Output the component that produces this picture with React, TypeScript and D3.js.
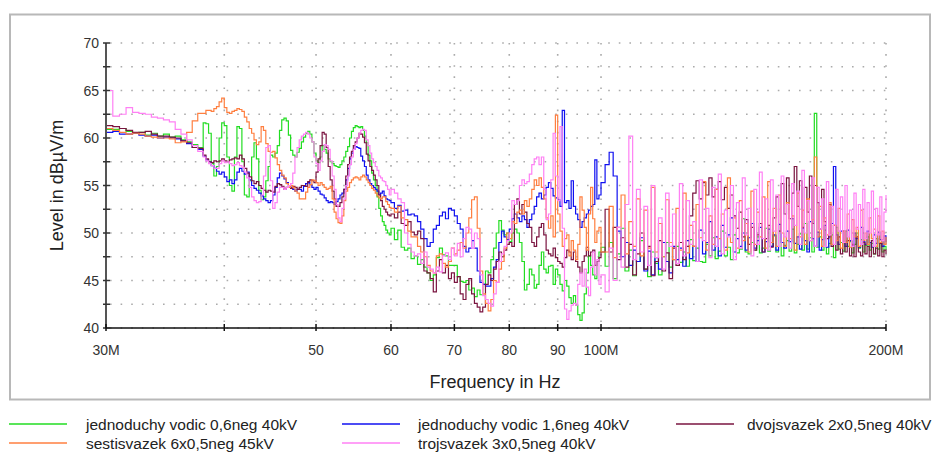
import React from 'react';
import * as d3 from 'd3';

// Frequency grid in MHz (shared by all series)
const freqMHz: number[] = [
  30, 30.5, 31, 31.5, 32, 32.5, 33, 33.5, 34, 34.5, 35, 35.5, 36, 36.5, 37, 37.5, 38,
  38.25, 38.5, 38.75, 39, 39.25, 39.5, 39.75, 40, 40.25, 40.5,
  40.75, 41, 41.25, 41.5, 41.75, 42, 42.25, 42.5, 42.75, 43,
  43.25, 43.5, 43.75, 44, 44.25, 44.5, 44.75, 45, 45.25, 45.5,
  45.75, 46, 46.25, 46.5, 46.75, 47, 47.25, 47.5, 47.75, 48,
  48.25, 48.5, 48.75, 49, 49.25, 49.5, 49.75, 50, 50.25, 50.5,
  50.75, 51, 51.25, 51.5, 51.75, 52, 52.25, 52.5, 52.75, 53,
  53.25, 53.5, 53.75, 54, 54.25, 54.5, 54.75, 55, 55.25, 55.5,
  55.75, 56, 56.25, 56.5, 56.75, 57, 57.25, 57.5, 57.75, 58,
  58.25, 58.5, 58.75, 59, 59.25, 59.5, 59.75, 60,
  60.5, 61, 61.5, 62, 62.5, 63, 63.5, 64, 64.5, 65,
  65.5, 66, 66.5, 67, 67.5, 68, 68.5, 69, 69.5, 70,
  70.5, 71, 71.5, 72, 72.5, 73, 73.5, 74, 74.5, 75,
  75.5, 76, 76.5, 77, 77.5, 78, 78.5, 79, 79.5, 80,
  80.5, 81, 81.5, 82, 82.5, 83, 83.5, 84, 84.5, 85,
  85.5, 86, 86.5, 87, 87.5, 88, 88.5, 89, 89.5, 90,
  90.5, 91, 91.5, 92, 92.5, 93, 93.5, 94, 94.5, 95,
  95.5, 96, 96.5, 97, 97.5, 98, 98.5, 99, 99.5, 100,
  101, 102, 103, 104, 105, 106, 107, 108, 109, 110,
  111, 112, 113, 114, 115, 116, 117, 118, 119, 120,
  121, 122, 123, 124, 125, 126, 127, 128, 129, 130,
  131, 132, 133, 134, 135, 136, 137, 138, 139, 140,
  141, 142, 143, 144, 145, 146, 147, 148, 149, 150,
  151, 152, 153, 154, 155, 156, 157, 158, 159, 160,
  161, 162, 163, 164, 165, 166, 167, 168, 169, 170,
  171, 172, 173, 174, 175, 176, 177, 178, 179, 180,
  181, 182, 183, 184, 185, 186, 187, 188, 189, 190,
  191, 192, 193, 194, 195, 196, 197, 198, 199, 200,
];

// jednoduchy vodic 0,6neg 40kV (green)
const greenLevels: number[] = [
  60.9, 60.9, 61.0, 60.7, 60.5, 60.6, 60.3, 60.5, 60.2, 60.4, 60.1, 60.2, 59.8, 59.6, 59.3, 59.0, 61.6,
  61.5, 60.5, 57.3, 56.0, 57.0, 60.0, 61.6, 61.3, 58.0, 55.0,
  54.4, 58.0, 61.2, 61.0, 57.5, 54.0, 53.8, 55.5, 58.0, 59.5,
  57.8, 54.5, 53.5, 53.8, 55.5, 57.0, 58.2, 58.0, 58.4, 59.2,
  60.8, 61.9, 62.1, 61.8, 60.3, 58.7, 58.2, 58.0, 58.5, 58.9,
  59.6, 60.1, 60.5, 60.7, 60.4, 59.6, 58.4, 57.6, 57.4, 58.0,
  59.2, 58.8, 58.4, 57.8, 57.5, 57.3, 57.1, 57.0, 56.9, 57.2,
  57.6, 58.0, 58.6, 59.1, 60.0, 60.7, 61.1, 61.3, 61.2, 61.1,
  61.2, 60.8, 60.2, 59.5, 58.2, 57.6, 56.3, 55.6, 55.0, 53.8,
  52.6, 51.8, 51.2, 50.8, 50.3, 50.0, 49.8, 50.5,
  49.3, 50.3, 48.5, 48.2, 48.4, 47.3, 47.6, 46.7, 47.2, 46.4,
  45.8, 45.0, 45.6, 47.4, 48.4, 47.7, 47.6, 46.6, 46.6, 46.6,
  45.4, 44.9, 44.8, 45.0, 44.0, 44.2, 43.3, 44.0, 43.5, 44.6,
  46.0, 45.8, 47.2, 48.4, 50.0, 51.3, 50.3, 49.8, 50.0, 49.1,
  50.0, 50.4, 50.0, 49.0, 47.0, 44.0, 44.6, 46.2, 45.6, 44.2,
  44.6, 46.6, 48.0, 46.2, 45.8, 46.5, 46.6, 44.6, 46.2, 45.6,
  44.6, 43.9, 45.0, 44.4, 43.2, 42.6, 43.4, 42.4, 41.4, 40.8,
  41.6, 43.6, 45.8, 47.6, 46.6, 45.6, 45.2, 47.0, 48.0, 48.5,
  46.5, 49.0, 45.2, 47.8, 50.5, 46.0, 48.2, 45.5, 47.0, 49.2,
  46.2, 45.4, 48.0, 46.8, 45.6, 47.5, 49.0, 46.4, 47.2, 48.6,
  46.9, 48.0, 46.5, 49.3, 47.1, 48.4, 47.0, 46.9, 48.8, 47.6,
  49.5, 47.3, 48.1, 50.2, 47.6, 48.5, 47.2, 49.8, 47.9, 48.3,
  51.5, 48.0, 47.8, 49.0, 48.2, 49.6, 47.9, 48.4, 50.5, 48.1,
  48.6, 49.7, 48.0, 50.2, 47.6, 48.7, 49.2, 48.1, 50.4, 47.9,
  48.8, 49.9, 48.2, 51.0, 48.3, 49.5, 48.0, 62.6, 48.5, 49.6,
  48.2, 50.3, 47.8, 48.9, 49.8, 47.4, 50.6, 48.3, 49.0, 48.1,
  50.2, 48.6, 49.1, 47.9, 48.8, 50.0, 48.4, 49.3, 48.0, 48.7,
  49.6, 48.2, 48.9, 47.8, 49.4, 48.3, 48.9, 48.0, 48.6, 48.2,
];

// jednoduchy vodic 1,6neg 40kV (blue)
const blueLevels: number[] = [
  60.6, 60.7, 60.4, 60.4, 60.5, 60.3, 60.2, 60.3, 60.0, 60.1, 60.0, 59.9, 59.7, 59.4, 59.0, 58.8, 58.1,
  57.7, 57.5, 57.1, 56.8, 56.5, 56.2, 56.4, 55.9, 55.4, 55.6,
  55.2, 55.6, 56.4, 56.8, 56.5, 56.2, 56.4, 55.6, 55.0, 54.7,
  54.5, 54.2, 53.9, 53.6, 53.4, 53.2, 53.4, 54.0, 54.8, 55.8,
  56.3, 56.0, 55.7, 55.3, 55.0, 54.8, 54.6, 54.4, 54.6, 54.6,
  54.4, 54.9, 55.2, 55.3, 55.1, 54.8, 54.6, 54.8, 54.4, 54.1,
  54.0, 53.7, 53.4, 53.2, 53.3, 53.2, 53.0, 53.3, 53.6, 54.0,
  54.2, 54.6, 55.6, 56.8, 57.8, 58.4, 58.8, 59.1, 59.0, 58.9,
  58.1, 57.6, 57.0, 56.1, 55.6, 55.2, 55.0, 54.8, 54.6, 54.4,
  54.0, 54.2, 54.4, 53.9, 53.6, 53.5, 53.4, 53.2,
  52.6, 52.9, 52.3, 52.4, 51.9, 52.0, 51.8, 51.2, 50.4, 49.4,
  48.6, 49.0, 50.4, 50.8, 51.8, 52.2, 51.5, 52.6, 52.4, 51.8,
  51.0, 50.4, 48.6, 48.0, 48.4, 49.2, 48.4, 46.0, 44.8, 44.6,
  44.4, 44.4, 45.2, 46.4, 47.2, 49.0, 50.2, 49.6, 49.3, 50.4,
  51.5, 52.0, 51.6, 51.2, 51.8, 51.4, 50.6, 51.4, 52.0, 52.8,
  53.8, 54.2, 53.6, 54.0, 54.8, 55.3, 54.7, 53.9, 53.7, 53.5,
  52.8, 62.9, 53.2, 53.4, 52.6, 55.5, 52.8, 52.0, 51.4, 50.6,
  51.2, 51.6, 52.0, 52.4, 52.8, 53.0, 57.7, 53.6, 54.0, 55.3,
  57.2, 58.5, 56.0, 50.2, 47.5, 49.0, 46.6, 48.2, 47.0, 49.5,
  46.0, 48.1, 45.6, 47.4, 46.2, 49.0, 47.0, 45.8, 48.6, 47.2,
  48.4, 46.5, 49.2, 47.3, 48.6, 47.0, 50.3, 47.8, 49.0, 51.2,
  48.2, 49.6, 47.6, 50.8, 48.5, 49.8, 51.6, 48.0, 49.4, 48.6,
  50.0, 48.2, 49.5, 51.0, 48.4, 49.2, 50.6, 48.0, 49.1, 50.4,
  48.6, 49.8, 48.2, 50.9, 49.0, 48.4, 50.2, 49.1, 51.5, 48.9,
  49.6, 48.3, 50.5, 49.2, 48.0, 51.2, 49.4, 48.6, 50.1, 48.2,
  49.3, 50.8, 48.5, 49.6, 51.0, 57.0, 49.8, 48.8, 50.2, 49.0,
  48.6, 50.3, 49.2, 48.7, 50.0, 49.4, 48.5, 50.6, 49.1, 48.8,
  50.2, 49.0, 48.5, 49.8, 48.9, 50.1, 49.3, 48.6, 49.7, 49.0,
];

// dvojsvazek 2x0,5neg 40kV (maroon)
const maroonLevels: number[] = [
  61.3, 61.2, 61.0, 60.8, 60.6, 60.6, 60.7, 60.4, 60.2, 60.2, 60.1, 60.0, 59.7, 59.5, 59.0, 58.9, 58.2,
  57.8, 57.5, 57.4, 57.6, 57.5, 57.6, 57.8, 57.6, 57.5, 57.7,
  57.8, 57.9, 57.8, 58.2, 57.8, 56.8, 56.3, 55.9, 55.5, 55.2,
  55.4, 55.0, 54.7, 54.5, 54.3, 54.5, 54.4, 54.3, 54.9, 55.2,
  55.1, 54.9, 54.6, 54.8, 54.8, 54.7, 54.9, 54.8, 54.6, 54.8,
  55.0, 55.0, 54.9, 55.4, 55.6, 55.5, 55.3, 56.4, 57.8, 59.2,
  60.6, 60.4, 59.0, 57.0, 55.6, 54.4, 53.6, 52.8, 52.8, 53.2,
  53.8, 54.6, 56.0, 57.2, 58.0, 58.6, 59.2, 59.6, 60.0, 60.5,
  60.4, 60.1, 59.5, 58.3, 57.6, 57.0, 56.6, 56.1, 55.6, 55.0,
  54.0, 53.4, 52.8, 52.5, 52.2, 51.9, 51.8, 52.0,
  51.6, 52.2, 51.0, 50.8, 51.2, 50.1, 49.8, 50.2, 49.4, 46.0,
  45.8, 45.2, 43.8, 46.0, 47.2, 45.8, 46.6, 45.2, 45.8, 44.8,
  45.4, 43.6, 43.0, 44.6, 45.2, 43.6, 42.6, 42.2, 41.7, 42.2,
  44.6, 45.6, 45.0, 46.2, 47.0, 48.0, 47.5, 48.2, 48.8, 49.0,
  48.6, 53.0, 53.6, 52.0, 53.0, 52.2, 51.0, 50.6, 49.0, 48.6,
  49.6, 50.6, 51.0, 49.8, 48.2, 47.8, 47.6, 48.4, 47.4, 47.0,
  46.8, 46.4, 47.4, 48.2, 48.0, 47.2, 48.0, 47.0, 46.4, 45.8,
  47.0, 47.6, 48.5, 47.6, 48.0, 48.2, 46.6, 47.0, 47.4, 48.0,
  52.5, 48.0, 50.6, 47.2, 49.5, 46.4, 48.8, 45.6, 47.8, 50.0,
  46.2, 48.6, 45.5, 47.0, 49.2, 46.0, 47.9, 45.2, 48.4, 46.6,
  49.0, 47.2, 48.6, 51.8, 54.2, 55.5, 53.6, 55.3, 54.0, 55.8,
  53.8, 54.6, 55.4, 53.5, 54.8, 52.6, 54.0, 51.8, 50.5, 52.2,
  49.6, 51.4, 48.8, 50.6, 48.2, 49.8, 51.0, 48.0, 49.4, 50.8,
  48.5, 51.6, 53.8, 50.2, 55.2, 52.0, 55.8, 51.5, 54.2, 57.0,
  52.8, 55.5, 50.6, 54.8, 52.2, 56.0, 51.0, 55.0, 53.2, 50.4,
  54.6, 51.2, 49.4, 53.0, 48.6, 50.8, 48.2, 49.6, 47.8, 50.2,
  48.0, 49.2, 47.6, 48.8, 47.5, 49.6, 48.0, 47.6, 49.0, 47.8,
  48.6, 47.5, 49.2, 47.8, 48.4, 47.6, 48.9, 47.5, 48.2, 47.8,
];

// sestisvazek 6x0,5neg 45kV (orange)
const orangeLevels: number[] = [
  61.0, 60.8, 60.6, 60.4, 60.5, 60.4, 60.2, 60.1, 60.0, 60.0, 59.9, 59.5, 59.6, 60.6, 61.8, 62.6, 62.6,
  62.9, 62.9, 62.8, 63.1, 63.3, 63.8, 64.2, 63.2, 62.7, 62.6,
  62.8, 62.9, 63.1, 63.0, 62.8, 62.2, 61.7, 61.0, 60.5, 59.8,
  59.3, 59.6, 61.2, 60.8, 59.4, 58.6, 58.5, 58.6, 57.9, 57.2,
  56.6, 56.1, 55.8, 55.2, 54.8, 55.0, 54.8, 54.4, 54.2, 53.6,
  53.6, 53.6, 54.3, 54.8, 55.1, 55.6, 55.5, 55.3, 55.0, 55.3,
  55.1, 54.8, 54.6, 54.7, 54.9, 53.6, 52.2, 51.5, 51.1, 51.0,
  51.8, 53.4, 54.4, 54.8, 55.3, 55.6, 55.8, 55.9, 55.8, 55.6,
  55.9, 56.1, 55.9, 55.6, 55.3, 55.0, 54.7, 54.5, 54.2, 53.9,
  53.7, 53.6, 53.8, 53.8, 53.3, 53.0, 52.7, 52.6,
  52.2, 52.8, 51.6, 51.4, 50.2, 49.6, 49.6, 48.6, 48.0, 47.5,
  46.6, 46.0, 45.8, 47.6, 47.8, 46.8, 46.4, 47.0, 48.4, 47.8,
  48.2, 49.0, 48.4, 50.0, 51.6, 53.5, 53.8, 50.5, 46.0, 43.6,
  42.6, 41.8, 43.0, 45.0, 44.8, 46.2, 47.0, 48.4, 50.0, 49.4,
  51.2, 51.0, 52.2, 52.4, 52.0, 53.4, 52.8, 53.6, 54.6, 55.6,
  55.0, 55.8, 54.8, 53.6, 51.6, 50.5, 51.8, 49.6, 62.4, 52.0,
  50.2, 48.6, 49.4, 49.8, 47.6, 49.2, 48.2, 47.2, 48.8, 53.8,
  52.4, 50.6, 48.2, 52.0, 54.8, 51.5, 49.0, 50.2, 50.6, 48.0,
  48.0, 52.8, 47.4, 50.6, 54.0, 47.8, 51.2, 48.6, 53.6, 47.6,
  52.4, 48.4, 54.8, 48.0, 51.0, 47.5, 53.5, 49.0, 47.2, 52.6,
  48.2, 54.2, 47.9, 50.8, 48.6, 53.0, 49.5, 55.4, 48.2, 51.8,
  48.8, 54.6, 49.4, 52.0, 48.2, 55.8, 49.0, 51.6, 48.4, 53.4,
  49.2, 51.0, 48.0, 54.4, 48.8, 52.2, 49.6, 53.8, 48.4, 55.4,
  49.0, 52.6, 48.6, 54.0, 50.0, 48.6, 53.2, 49.4, 51.8, 48.2,
  54.2, 49.6, 52.4, 48.8, 53.6, 49.2, 51.4, 58.0, 49.6, 52.8,
  48.6, 51.6, 49.8, 53.2, 48.8, 50.8, 49.2, 52.6, 48.4, 50.2,
  49.0, 52.0, 48.5, 51.4, 49.6, 50.6, 48.6, 52.4, 49.2, 50.0,
  48.8, 51.6, 49.4, 50.4, 48.6, 51.8, 49.0, 50.2, 48.8, 49.6,
];

// trojsvazek 3x0,5neg 40kV (pink)
const pinkLevels: number[] = [
  65.0, 62.3, 62.5, 63.2, 62.7, 62.6, 62.5, 62.2, 62.1, 61.9, 61.7, 60.9, 60.4, 59.8, 59.2, 58.6, 58.0,
  57.6, 57.3, 57.1, 56.8, 56.8, 57.3, 57.6, 57.4, 57.5, 57.3,
  57.1, 57.2, 57.4, 57.1, 56.9, 56.4, 55.8, 54.8, 53.8, 53.4,
  53.2, 53.3, 54.0, 56.0, 59.0, 59.2, 55.5, 52.6, 53.2, 54.3,
  54.8, 54.8, 54.6, 54.8, 55.0, 55.2, 56.3, 58.0, 59.0, 59.8,
  60.2, 60.4, 60.6, 60.4, 60.0, 59.6, 58.0, 57.3, 56.6, 57.6,
  58.6, 59.3, 59.2, 58.8, 57.6, 56.0, 54.6, 53.0, 51.6, 51.2,
  52.6, 53.6, 55.0, 56.0, 57.2, 58.0, 58.8, 59.4, 60.0, 60.5,
  60.8, 60.9, 60.8, 59.8, 59.2, 58.4, 57.8, 57.4, 57.0, 56.6,
  56.0, 55.8, 55.5, 55.4, 55.0, 54.6, 54.0, 54.6,
  54.2, 53.6, 53.2, 50.0, 48.8, 48.0, 47.6, 47.8, 46.8, 48.0,
  46.4, 46.2, 45.8, 46.4, 45.9, 47.6, 47.9, 47.2, 48.4, 47.6,
  48.9, 47.5, 49.4, 50.6, 50.4, 48.4, 50.0, 49.4, 45.6, 43.4,
  43.0, 42.6, 42.3, 43.6, 44.8, 47.0, 47.8, 48.6, 49.2, 50.0,
  53.4, 53.0, 53.4, 55.0, 55.6, 55.2, 55.4, 56.2, 57.2, 57.8,
  58.0, 57.2, 58.0, 54.6, 51.4, 52.0, 55.6, 60.5, 56.0, 53.4,
  61.2, 50.5, 42.0, 40.9, 41.8, 42.4, 42.6, 42.4, 44.6, 45.8,
  44.4, 46.2, 44.3, 43.4, 46.4, 48.0, 45.6, 47.2, 44.6, 45.6,
  43.8, 48.4, 45.0, 50.6, 46.4, 53.0, 60.2, 47.2, 54.6, 48.0,
  52.8, 46.6, 55.0, 47.4, 51.6, 46.2, 54.2, 48.6, 52.0, 46.8,
  55.2, 47.6, 53.4, 48.8, 51.2, 47.0, 55.6, 49.2, 52.6, 47.4,
  54.8, 48.6, 56.2, 47.8, 52.4, 49.6, 55.0, 47.2, 53.2, 48.4,
  55.8, 49.8, 52.6, 47.6, 54.6, 48.8, 56.4, 49.4, 53.6, 48.2,
  55.6, 50.2, 54.0, 48.6, 56.0, 49.6, 53.0, 48.4, 55.2, 50.8,
  54.4, 48.8, 56.6, 50.0, 53.4, 49.2, 55.8, 48.6, 54.8, 50.4,
  53.6, 48.6, 55.4, 49.8, 52.8, 48.8, 54.6, 50.2, 53.8, 49.0,
  55.0, 49.6, 52.4, 48.6, 54.2, 50.4, 53.0, 48.8, 54.6, 49.4,
  53.2, 50.0, 54.4, 48.6, 52.6, 49.8, 53.8, 49.2, 52.2, 54.0,
];

const seriesNames = [
  'jednoduchy vodic 0,6neg 40kV',
  'jednoduchy vodic 1,6neg 40kV',
  'dvojsvazek 2x0,5neg 40kV',
  'sestisvazek 6x0,5neg 45kV',
  'trojsvazek 3x0,5neg 40kV',
];
const seriesColors = ['#22dd22', '#1010f0', '#7a1440', '#ff7f40', '#ff80f4'];
const seriesLevels = [greenLevels, blueLevels, maroonLevels, orangeLevels, pinkLevels];

const yGridValues = [40, 42.5, 45, 47.5, 50, 52.5, 55, 57.5, 60, 62.5, 65, 67.5, 70];
const yLabelValues = [40, 45, 50, 55, 60, 65, 70];
const xTickValues = [30, 40, 50, 60, 70, 80, 90, 100, 200];
const xTickLabels = ['30M', '', '50', '60', '70', '80', '90', '100M', '200M'];

const FONT = "'Liberation Sans', Arial, Helvetica, sans-serif";

export default function App() {
  const W = 938;
  const H = 453;
  const left = 106, right = 886, top = 43, bottom = 328;
  const x = d3.scaleLog().domain([30, 200]).range([left, right]);
  const y = d3.scaleLinear().domain([40, 70]).range([bottom, top]);

  seriesLevels.forEach((s, i) => {
    if (s.length !== freqMHz.length) {
      throw new Error(`series ${i} length ${s.length} != ${freqMHz.length}`);
    }
  });

  const line = d3
    .line<[number, number]>()
    .x((d) => x(d[0]))
    .y((d) => y(d[1]))
    .curve(d3.curveStepAfter);

  const legendItems = [
    { i: 0, lx: 9, tx: 86, row: 0 },
    { i: 1, lx: 342, tx: 418, row: 0 },
    { i: 2, lx: 676, tx: 747, row: 0 },
    { i: 3, lx: 9, tx: 86, row: 1 },
    { i: 4, lx: 342, tx: 418, row: 1 },
  ];

  return (
    <svg
      width={W}
      height={H}
      style={{ position: 'absolute', left: 0, top: 0, background: '#fff' }}
      fontFamily={FONT}
    >
      <rect x={0} y={0} width={W} height={H} fill="#fff" />
      <rect x={10} y={14.5} width={920} height={385} fill="#fff" stroke="#b8b8b8" strokeWidth={2} />
      <defs>
        <clipPath id="plotclip">
          <rect x={left} y={top - 2} width={right - left + 1} height={bottom - top + 2} />
        </clipPath>
      </defs>

      {/* horizontal dotted grid */}
      {yGridValues.map((v) => (
        <line
          key={'hg' + v}
          x1={left + 4}
          x2={right}
          y1={y(v)}
          y2={y(v)}
          stroke="#ababab"
          strokeWidth={1.6}
          strokeDasharray="1.6 9"
        />
      ))}
      {/* vertical dotted grid */}
      {xTickValues.slice(1).map((v) => (
        <line
          key={'vg' + v}
          x1={x(v)}
          x2={x(v)}
          y1={top}
          y2={bottom - 4}
          stroke="#ababab"
          strokeWidth={1.6}
          strokeDasharray="1.6 9.5"
        />
      ))}

      {/* series */}
      <g clipPath="url(#plotclip)">
        {seriesLevels.map((levels, i) => {
          const pts: [number, number][] = freqMHz.map((f, k) => [f, levels[k]]);
          return (
            <path
              key={'s' + i}
              d={line(pts) || ''}
              fill="none"
              stroke={seriesColors[i]}
              strokeWidth={1.2}
              strokeLinejoin="miter"
            />
          );
        })}
      </g>

      {/* axes */}
      <line x1={left} x2={left} y1={top} y2={bottom} stroke="#555" strokeWidth={2} />
      <line x1={left} x2={right} y1={bottom} y2={bottom} stroke="#111" strokeWidth={1.5} />
      {yGridValues.map((v) => (
        <line key={'yt' + v} x1={left - 3} x2={left + 4} y1={y(v)} y2={y(v)} stroke="#333" strokeWidth={1.5} />
      ))}
      {xTickValues.map((v) => (
        <line key={'xt' + v} x1={x(v)} x2={x(v)} y1={bottom - 4} y2={bottom + 3} stroke="#111" strokeWidth={1.5} />
      ))}
      {yLabelValues.map((v) => (
        <text
          key={'yl' + v}
          x={99}
          y={y(v) + 5}
          textAnchor="end"
          fontSize={14}
          fill="#333"
        >
          {v}
        </text>
      ))}
      {xTickValues.map((v, k) =>
        xTickLabels[k] ? (
          <text key={'xl' + v} x={x(v)} y={355} textAnchor="middle" fontSize={14} fill="#333">
            {xTickLabels[k]}
          </text>
        ) : null
      )}

      <text
        transform={`translate(63, ${(top + bottom) / 2}) rotate(-90)`}
        textAnchor="middle"
        fontSize={18}
        fill="#222"
      >
        Level in dBµV/m
      </text>
      <text x={495} y={388} textAnchor="middle" fontSize={18} fill="#222">
        Frequency in Hz
      </text>

      {/* legend */}
      {legendItems.map((it) => {
        const ly = it.row === 0 ? 424 : 443;
        return (
          <g key={'lg' + it.i}>
            <line x1={it.lx} x2={it.lx + 58} y1={ly} y2={ly} stroke={seriesColors[it.i]} strokeWidth={1.5} />
            <text x={it.tx} y={ly + 6} fontSize={15.5} fill="#222">
              {seriesNames[it.i]}
            </text>
          </g>
        );
      })}
    </svg>
  );
}
